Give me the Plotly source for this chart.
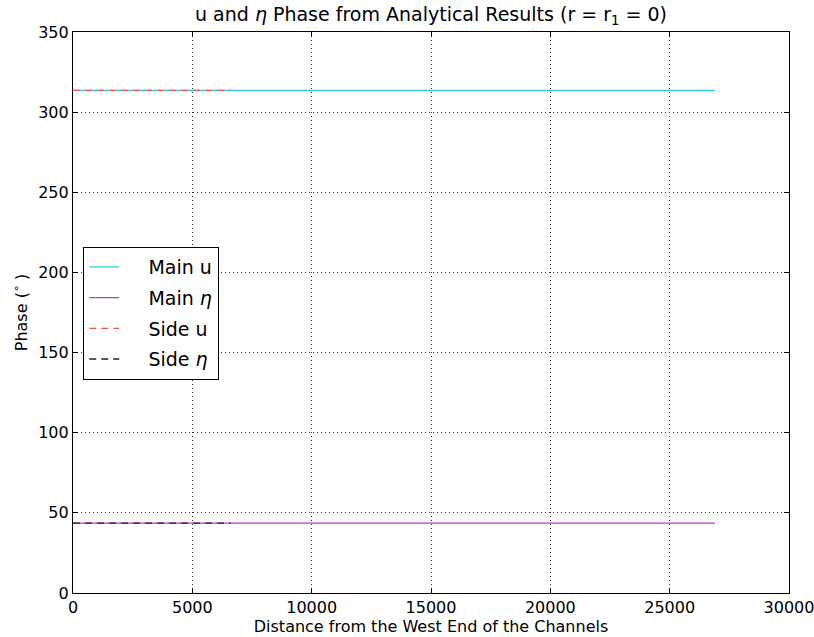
import plotly.graph_objects as go

main_x = [0, 26900]
side_x = [0, 6600]
main_u = [313.6, 313.6]
main_eta = [43.6, 43.6]
side_u = [313.6, 313.6]
side_eta = [43.6, 43.6]

x_ticks = [0, 5000, 10000, 15000, 20000, 25000, 30000]
y_ticks = [0, 50, 100, 150, 200, 250, 300, 350]

font = "DejaVu Sans"
pad = "\u00a0" * 4
fig = go.Figure()
fig.add_trace(go.Scatter(x=main_x, y=main_u, mode="lines", name=pad + "Main u", legendgroup="a",
                         line=dict(color="#33cccc", width=1.3)))
fig.add_trace(go.Scatter(x=main_x, y=main_eta, mode="lines", name=pad + "Main <i>η</i>", legendgroup="b",
                         line=dict(color="#cc33cc", width=1.3)))
fig.add_trace(go.Scatter(x=side_x, y=side_u, mode="lines", name=pad + "Side u", legendgroup="c",
                         line=dict(color="#ff4c4c", width=1.3, dash="7px,5px")))
fig.add_trace(go.Scatter(x=side_x, y=side_eta, mode="lines", name=pad + "Side <i>η</i>", legendgroup="d",
                         line=dict(color="#222222", width=1.3, dash="7px,5px")))

axis_common = dict(showline=True, linecolor="black", linewidth=1.2, mirror="ticks",
                   ticks="inside", ticklen=5, tickcolor="black", automargin=False,
                   ticklabeloverflow="allow",
                   showgrid=True, gridcolor="#333333", griddash="1px,3px", gridwidth=0.8,
                   zeroline=False, tickfont=dict(family=font, size=16, color="black"))

fig.update_layout(
    width=814, height=637,
    margin=dict(l=73, r=25, t=32, b=44),
    paper_bgcolor="white", plot_bgcolor="white",
    font=dict(family=font, color="black"),
    title=dict(text="u and <i>η</i> Phase from Analytical Results (r = r<sub>1</sub> = 0)",
               x=0.5, xref="paper", xanchor="center", y=0.988, yanchor="top",
               font=dict(family=font, size=19, color="black")),
    xaxis=dict(range=[0, 30000], tickvals=x_ticks, ticktext=[str(v) for v in x_ticks],
               title=dict(text="Distance from the West End of the Channels", standoff=4,
                          font=dict(family=font, size=16)),
               **axis_common),
    yaxis=dict(range=[0, 350], tickvals=y_ticks, ticktext=[str(v) for v in y_ticks],
               title=dict(text="Phase (<sup>∘</sup> )", standoff=6,
                          font=dict(family=font, size=16)),
               **axis_common),
    legend=dict(x=0.014, y=0.617, xanchor="left", yanchor="top",
                bordercolor="black", borderwidth=1.2, bgcolor="white",
                font=dict(family=font, size=19, color="black"),
                itemwidth=30, tracegroupgap=3, traceorder="grouped"),
    showlegend=True,
)
fig.write_html("out.html")
